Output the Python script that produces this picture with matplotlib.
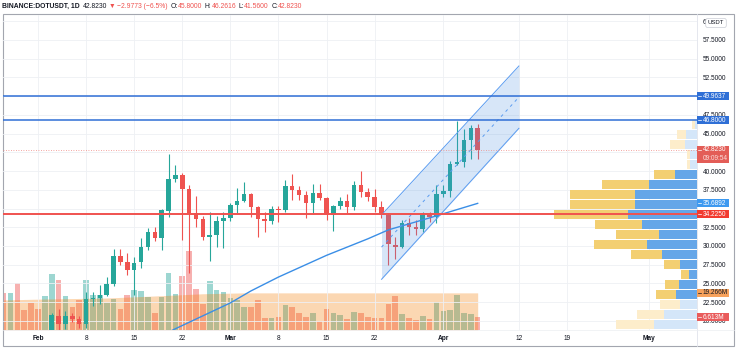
import numpy as np
import pandas as pd
import matplotlib
matplotlib.use("Agg")
import matplotlib.pyplot as plt
import matplotlib.dates as mdates
from matplotlib import transforms
from matplotlib.patches import Rectangle
from matplotlib.lines import Line2D

plt.rcParams['font.family'] = ['Liberation Sans', 'DejaVu Sans']

W, H = 736, 351
FS = 4.7

# daily candles BINANCE:DOTUSDT, 2021-02-03 .. 2021-04-06
candle_start = '2021-02-03'
opens = [17.6, 20.7, 19.6, 20.7, 20.2, 19.6, 22.9, 23.0, 23.5, 24.9,
         28.6, 27.8, 26.8, 27.8, 29.9, 31.9, 31.0, 34.7, 38.9, 39.5,
         37.6, 34.4, 33.6, 31.2, 31.4, 33.4, 33.7, 35.5, 36.0, 37.0,
         35.2, 33.6, 33.3, 35.0, 34.8, 38.0, 37.5, 36.8, 35.8, 37.1,
         36.4, 34.1, 35.3, 36.0, 35.2, 38.1, 37.2, 36.6, 35.2, 34.1,
         30.1, 29.8, 33.1, 32.6, 32.2, 34.2, 33.9, 37.0, 37.4, 40.9,
         41.2, 44.2, 45.8]
highs = [21.0, 21.6, 21.3, 21.0, 20.6, 23.9, 23.9, 24.8, 25.9, 29.6,
         29.6, 29.0, 28.5, 31.0, 32.4, 32.5, 35.0, 42.3, 40.8, 39.7,
         38.1, 36.7, 34.0, 34.5, 34.0, 34.6, 35.8, 37.8, 38.6, 37.1,
         35.3, 34.6, 35.3, 35.3, 38.8, 39.6, 38.0, 37.3, 38.3, 38.3,
         36.6, 35.5, 36.6, 36.9, 38.7, 40.0, 37.8, 37.6, 36.0, 34.4,
         31.2, 33.5, 33.7, 33.5, 34.6, 34.6, 38.1, 38.1, 41.4, 46.7,
         45.6, 46.2, 46.2616]
lows = [17.0, 18.8, 18.9, 19.9, 19.1, 19.1, 22.0, 22.3, 23.3, 24.6,
        27.5, 26.1, 23.5, 27.0, 29.4, 30.6, 29.5, 33.9, 38.6, 30.8,
        26.4, 32.5, 30.8, 28.0, 29.8, 29.7, 33.4, 34.3, 35.9, 33.9,
        31.2, 31.9, 33.0, 33.2, 34.6, 36.1, 36.2, 33.8, 34.4, 36.2,
        33.5, 32.0, 34.9, 34.4, 34.8, 36.6, 36.0, 34.6, 33.7, 27.5,
        28.2, 29.7, 31.5, 31.5, 31.9, 33.2, 33.1, 36.5, 36.5, 40.8,
        40.6, 41.6, 41.56]
closes = [20.8, 19.6, 20.7, 20.3, 19.6, 22.9, 23.1, 23.5, 24.9, 28.6,
          27.9, 26.8, 27.7, 29.9, 31.9, 31.0, 34.8, 38.9, 39.5, 37.6,
          34.4, 33.6, 31.2, 31.4, 33.4, 33.7, 35.5, 36.0, 37.0, 35.2,
          33.6, 33.3, 35.0, 34.8, 38.0, 37.5, 36.8, 35.8, 37.1, 36.4,
          34.1, 35.3, 36.0, 35.2, 38.1, 37.2, 36.6, 35.2, 34.2, 30.2,
          29.8, 33.1, 32.5, 32.2, 34.2, 33.9, 37.0, 37.4, 40.9, 41.2,
          44.2, 45.8, 42.823]

# volume (millions), 2021-01-27 .. 2021-04-06
vol_start = '2021-01-27'
volumes = [19.0, 19.0, 24.2, 10.4, 13.8, 10.7, 17.6,
           29.0, 26.0, 17.6, 12.1, 15.6, 26.0, 18.2, 18.2, 13.8, 15.9,
           10.7, 18.2, 20.7, 20.2, 17.3, 8.6, 17.0, 29.4, 18.7, 28.0,
           41.0, 21.1, 13.5, 25.6, 20.7, 19.9, 16.6, 15.6, 12.1, 12.1,
           15.6, 6.1, 6.1, 6.9, 13.0, 12.1, 8.7, 6.9, 8.7, 4.8,
           10.7, 9.0, 7.8, 5.5, 9.5, 8.7, 6.6, 6.1, 6.1, 13.5,
           17.6, 8.3, 6.1, 5.2, 7.3, 5.5, 14.7, 10.0, 10.4, 18.2,
           8.7, 8.3, 6.613]
early_up = [False, True, False, False, False, False, True]  # Jan 27 - Feb 2 (candles below view)

# volume average area
vma_dates = ['2021-01-26', '2021-02-01', '2021-02-11', '2021-02-19', '2021-02-25', '2021-03-03', '2021-04-06']
vma_vals = [15.5, 16.0, 16.6, 17.8, 18.8, 19.27, 19.266]

# moving average on price
ma_dates = ['2021-02-20', '2021-02-21', '2021-03-01', '2021-03-04', '2021-03-08', '2021-03-15',
            '2021-03-21', '2021-03-24', '2021-03-30', '2021-04-06']
ma_vals = [18.5, 18.95, 22.4, 24.0, 25.85, 28.75, 30.95, 32.15, 33.75, 35.6892]

# regression channel
chan_dates = ['2021-03-23', '2021-04-12']
chan_upper = [34.14, 54.03]
chan_lower = [25.55, 45.71]

# horizontal levels
blue_levels = [49.9637, 46.8]
poc_level = 34.225
last_price = 42.823

# volume profile (visible range), row centre prices and up / down volume
vp_price = [46.24, 44.91, 43.57, 42.24, 40.90, 39.57, 38.23, 36.90, 35.56, 34.23, 32.89,
            31.56, 30.22, 28.89, 27.55, 26.22, 24.88, 23.55, 22.21, 20.88, 19.54]
vp_up = [2.3, 10.7, 12.3, 7.3, 7.3, 21.7, 48.0, 62.3, 62.3, 69.0, 54.7,
         38.3, 50.0, 34.7, 17.3, 8.0, 18.3, 21.3, 16.7, 33.3, 43.3]
vp_down = [2.4, 9.3, 14.4, 2.4, 2.4, 21.6, 47.0, 65.0, 64.4, 74.0, 47.0,
           42.4, 53.3, 31.6, 15.7, 7.7, 13.7, 19.4, 20.6, 26.4, 38.0]
vp_value_area = [False] * 5 + [True] * 13 + [False] * 3

tick_dates = ['2021-02-01', '2021-02-08', '2021-02-15', '2021-02-22', '2021-03-01', '2021-03-08',
              '2021-03-15', '2021-03-22', '2021-04-01', '2021-04-12', '2021-04-19', '2021-05-01']
tick_labels = ['Feb', '8', '15', '22', 'Mar', '8', '15', '22', 'Apr', '12', '19', 'May']
price_ticks = np.arange(20, 61, 2.5)
hidden_price_labels = [50.0, 42.5, 35.0]  # covered by the scale tags

UP = '#26a69a'
DOWN = '#ef5350'
TXT = '#131722'

def dnum(d):
    return mdates.date2num(pd.to_datetime(d))

cx = mdates.date2num(pd.date_range(candle_start, periods=len(opens)))
vx = mdates.date2num(pd.date_range(vol_start, periods=len(volumes)))
o = np.array(opens); c = np.array(closes)
up = c >= o
ccol = [UP if u else DOWN for u in up]
vcol = [UP if u else DOWN for u in list(early_up) + list(up)]

fig = plt.figure(figsize=(W / 100, H / 100), dpi=100)
ax = fig.add_axes([3 / W, 1 - 330 / H, 694 / W, 315 / H])
vol_ax = ax.twinx()
vp_ax = ax.twiny()
ax.yaxis.tick_right()
ax.xaxis.tick_bottom()
vol_ax.set_zorder(0)
ax.set_zorder(1)
vp_ax.set_zorder(2)
ax.patch.set_visible(False)
for a in (ax, vol_ax, vp_ax):
    for s in a.spines.values():
        s.set_visible(False)

# volume
vol_ax.bar(vx, volumes, width=0.82, color=vcol, alpha=0.45, lw=0)
vol_ax.fill_between([dnum(d) for d in vma_dates], 0, vma_vals, color='#f57c00', alpha=0.3, lw=0)
vol_ax.set_yticks([])

# candles
ax.vlines(cx, lows, highs, colors=ccol, lw=0.8, zorder=3)
body = np.maximum(np.abs(c - o), 0.1)
ax.bar(cx, body, bottom=np.minimum(o, c), width=0.66, color=ccol, lw=0, zorder=3)

# moving average
ax.plot([dnum(d) for d in ma_dates], ma_vals, color='#3a8ee6', lw=1.0, zorder=4)

# regression channel
chx = [dnum(d) for d in chan_dates]
chan_mid = [(a + b) / 2 for a, b in zip(chan_upper, chan_lower)]
ax.fill_between(chx, chan_lower, chan_upper, color='#4a90e2', alpha=0.22, lw=0, zorder=5)
ax.plot(chx, chan_upper, color='#5b9cf0', lw=0.7, zorder=5)
ax.plot(chx, chan_lower, color='#5b9cf0', lw=0.7, zorder=5)
ax.plot(chx, chan_mid, color='#5b9cf0', lw=0.7, ls=(0, (3, 4)), zorder=5)

# volume profile
vp_ax.set_xlim(694, 0)
vp_ax.xaxis.set_visible(False)
up_c = ['#65a6e8' if v else '#d4e6f9' for v in vp_value_area]
dn_c = ['#f3cf72' if v else '#fdedcb' for v in vp_value_area]
vp_ax.barh(vp_price, vp_up, height=1.22, left=0, color=up_c, lw=0, zorder=1)
vp_ax.barh(vp_price, vp_down, height=1.22, left=vp_up, color=dn_c, lw=0, zorder=1)

# levels
for lv in blue_levels:
    vp_ax.axhline(lv, color='#2f6fd6', lw=1.1, zorder=3)
vp_ax.axhline(poc_level, color='#f0524f', lw=1.4, zorder=3)
vp_ax.axhline(last_price, color='#f08a85', lw=0.6, ls=(0, (1, 2)), zorder=3)

# axes, ticks
ax.set_xticks([dnum(d) for d in tick_dates])
ax.set_xticklabels(tick_labels)
for t in ax.get_xticklabels():
    if t.get_text() in ('Feb', 'Mar', 'Apr', 'May'):
        t.set_fontweight('bold')
ax.set_yticks(price_ticks)
ax.yaxis.set_major_formatter(matplotlib.ticker.FuncFormatter(
    lambda v, p: '' if any(abs(v - h) < 1e-6 for h in hidden_price_labels) else '%.4f' % v))
ax.tick_params(axis='y', length=0, pad=4.4, labelsize=FS, labelcolor=TXT)
ax.tick_params(axis='x', length=0, pad=3.6, labelsize=FS, labelcolor=TXT)
ax.grid(True, color='#eef0f4', lw=0.6)
ax.set_axisbelow(True)

x0 = dnum('2021-02-01')
ax.set_xlim(x0 - 5.095, x0 + 95.925)
ax.set_ylim(57.5 - 290 / 7.49, 57.5 + 25 / 7.49)
vol_ax.set_ylim(0, 315 / 1.928)

# price / value tags on the right scale
ptr = transforms.blended_transform_factory(vp_ax.transAxes, ax.transData)
vtr = transforms.blended_transform_factory(vp_ax.transAxes, vol_ax.transData)
bw = 32 / 694

def tag(y, text, fc, tc, tr, per_px, below=0.0):
    h = 8 / per_px
    vp_ax.add_patch(Rectangle((1.0, y - h / 2 - below), bw, h + below, transform=tr,
                              fc=fc, ec='none', clip_on=False, zorder=10))
    vp_ax.add_line(Line2D([1 + 1 / 694, 1 + 4 / 694], [y, y], transform=tr, color=tc,
                          lw=0.5, clip_on=False, zorder=11))
    vp_ax.text(1 + 6 / 694, y, text, transform=tr, fontsize=FS, color=tc, ha='left',
               va='center', clip_on=False, zorder=11)

tag(49.9637, '49.9637', '#2f6fd6', 'white', ptr, 7.49)
tag(46.8, '46.8000', '#2f6fd6', 'white', ptr, 7.49)
tag(35.6892, '35.6892', '#3d99f0', 'white', ptr, 7.49)
tag(poc_level, '34.2250', '#f23b30', 'white', ptr, 7.49)
tag(last_price, '42.8230', '#e35d57', 'white', ptr, 7.49, below=9 / 7.49)
vp_ax.text(1 + 6 / 694, last_price - 8.6 / 7.49, '09:09:54', transform=ptr, fontsize=FS,
           color='#fbe0de', ha='left', va='center', clip_on=False, zorder=11)
tag(19.266, '19.266M', '#f7a25c', TXT, vtr, 1.928)
tag(6.613, '6.613M', '#e95b5b', 'white', vtr, 1.928)

vp_ax.text(1 + 19 / 694, 57.5 + 17 / 7.49, 'USDT', transform=ptr, fontsize=4.3, color=TXT,
           ha='center', va='center', clip_on=False, zorder=11,
           bbox=dict(boxstyle='round,pad=0.35', fc='white', ec='#c9ccd4', lw=0.5))

# frame and dividers
fig.add_artist(Rectangle((2.5 / W, 1 - 346 / H), 731 / W, 332 / H, transform=fig.transFigure,
                         fill=False, ec='#a3a6af', lw=0.8))
fig.add_artist(Line2D([697 / W, 697 / W], [1 - 14 / H, 1 - 346 / H], transform=fig.transFigure,
                      color='#e0e3eb', lw=0.6))
fig.add_artist(Line2D([2.5 / W, 733.5 / W], [1 - 330 / H, 1 - 330 / H], transform=fig.transFigure,
                      color='#eceef2', lw=0.5))

# header
header = [('BINANCE:DOTUSDT, 1D', TXT, 'bold', 3), ('42.8230', TXT, 'normal', 2),
          ('\u25bc', DOWN, 'normal', 1.5), ('\u22122.9773 (\u22126.5%)', DOWN, 'normal', 3),
          ('O:', TXT, 'normal', 0), ('45.8000', DOWN, 'normal', 2.5),
          ('H:', TXT, 'normal', 0), ('46.2616', DOWN, 'normal', 2.5),
          ('L:', TXT, 'normal', 0), ('41.5600', DOWN, 'normal', 2.5),
          ('C:', TXT, 'normal', 0), ('42.8230', DOWN, 'normal', 0)]
fig.canvas.draw()
r = fig.canvas.get_renderer()
x = 2.0
for txt, col, wt, gap in header:
    t = fig.text(x / W, 1 - 6.5 / H, txt, color=col, fontweight=wt, fontsize=FS + 0.2,
                 ha='left', va='center')
    x += t.get_window_extent(renderer=r).width + gap

fig.savefig('out.png', dpi=100, facecolor='white')
